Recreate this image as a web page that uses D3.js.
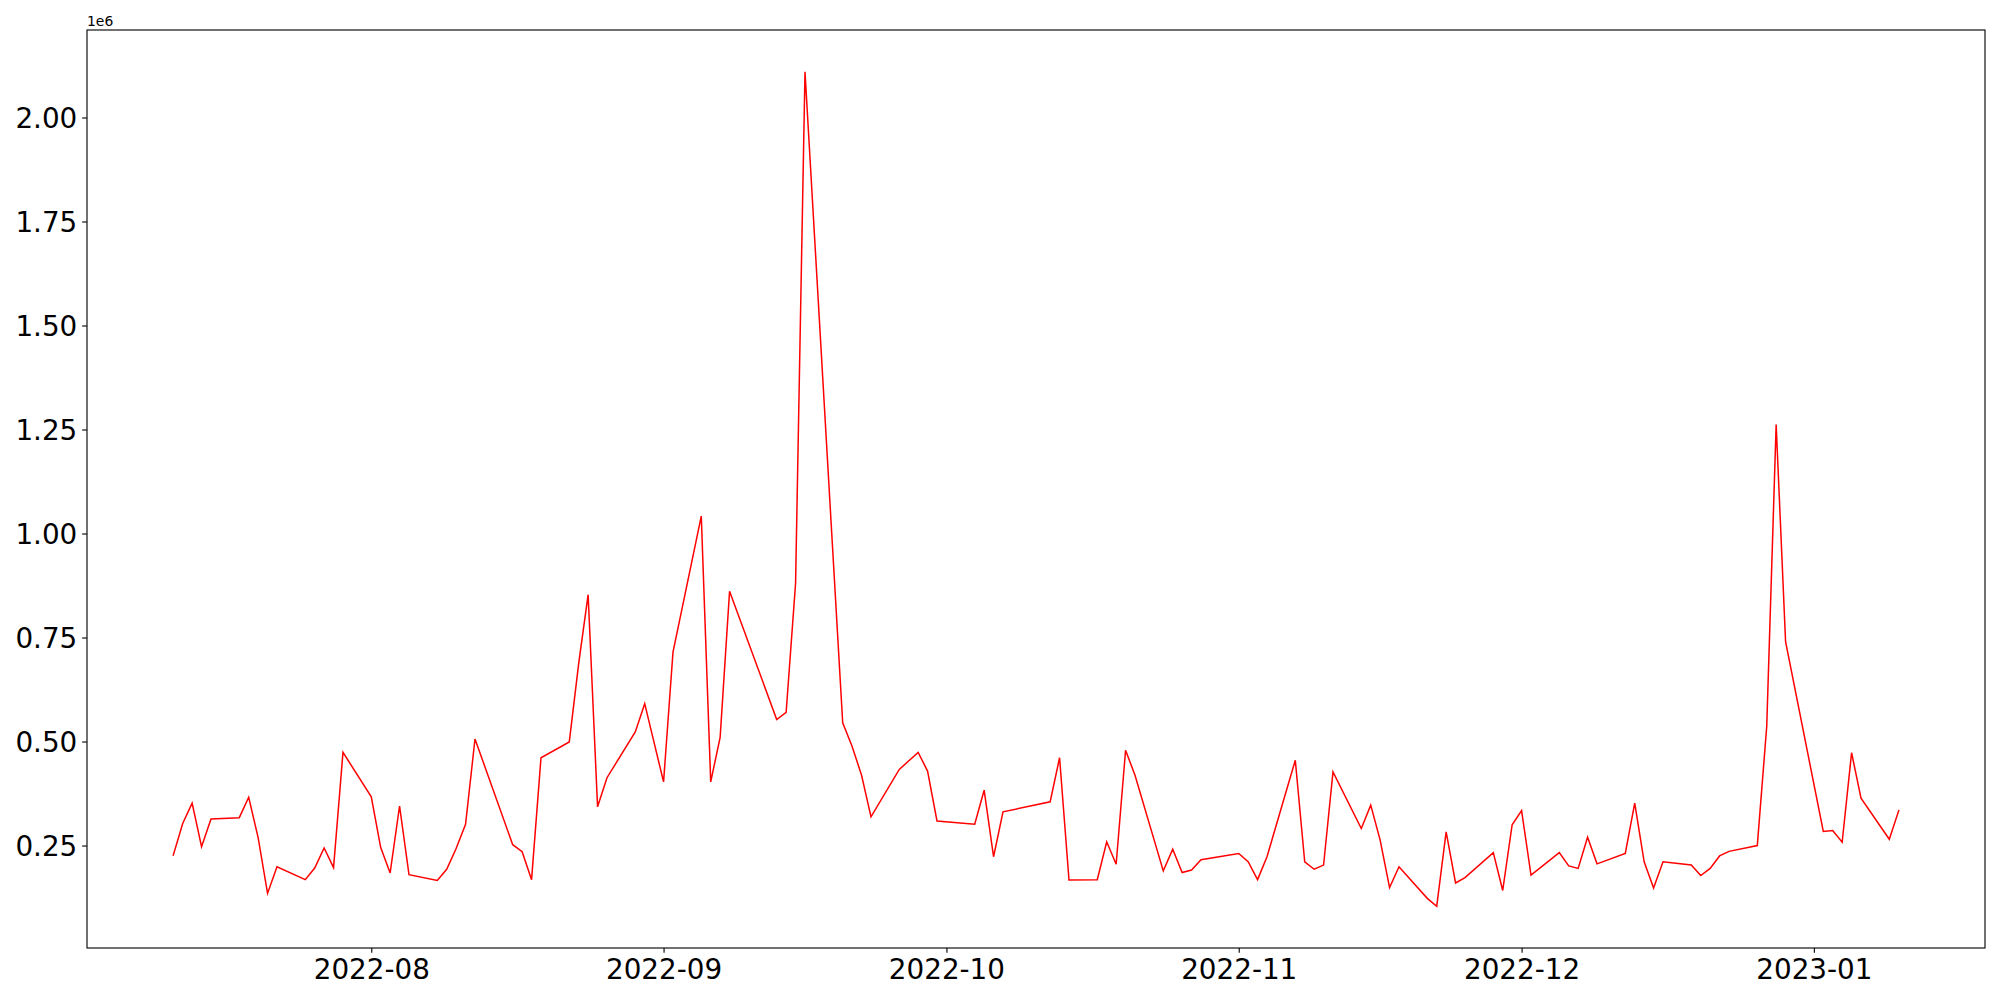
<!DOCTYPE html>
<html>
<head>
<meta charset="utf-8">
<script src="https://cdn.jsdelivr.net/npm/d3@7"></script>
<style>
  html, body { margin: 0; padding: 0; background: #fff; }
  svg { display: block; }
  text { font-family: "DejaVu Sans", sans-serif; fill: #000; }
</style>
</head>
<body>
<svg id="chart" width="2000" height="1000"></svg>
<script>
// ---- data ----
const dates = [
  "2022-07-11","2022-07-12","2022-07-13","2022-07-14","2022-07-15",
  "2022-07-18","2022-07-19","2022-07-20","2022-07-21","2022-07-22",
  "2022-07-25","2022-07-26","2022-07-27","2022-07-28","2022-07-29",
  "2022-08-01","2022-08-02","2022-08-03","2022-08-04","2022-08-05",
  "2022-08-08","2022-08-09","2022-08-10","2022-08-11","2022-08-12",
  "2022-08-16","2022-08-17","2022-08-18","2022-08-19",
  "2022-08-22","2022-08-23","2022-08-24","2022-08-25","2022-08-26",
  "2022-08-29","2022-08-30","2022-09-01","2022-09-02",
  "2022-09-05","2022-09-06","2022-09-07","2022-09-08",
  "2022-09-13","2022-09-14","2022-09-15","2022-09-16",
  "2022-09-20","2022-09-21","2022-09-22","2022-09-23",
  "2022-09-26","2022-09-28","2022-09-29","2022-09-30",
  "2022-10-04","2022-10-05","2022-10-06","2022-10-07",
  "2022-10-12","2022-10-13","2022-10-14",
  "2022-10-17","2022-10-18","2022-10-19","2022-10-20","2022-10-21",
  "2022-10-24","2022-10-25","2022-10-26","2022-10-27","2022-10-28",
  "2022-11-01","2022-11-02","2022-11-03","2022-11-04",
  "2022-11-07","2022-11-08","2022-11-09","2022-11-10","2022-11-11",
  "2022-11-14","2022-11-15","2022-11-16","2022-11-17","2022-11-18",
  "2022-11-21","2022-11-22","2022-11-23","2022-11-24","2022-11-25",
  "2022-11-28","2022-11-29","2022-11-30","2022-12-01","2022-12-02",
  "2022-12-05","2022-12-06","2022-12-07","2022-12-08","2022-12-09",
  "2022-12-12","2022-12-13","2022-12-14","2022-12-15","2022-12-16",
  "2022-12-19","2022-12-20","2022-12-21","2022-12-22","2022-12-23",
  "2022-12-26","2022-12-27","2022-12-28","2022-12-29",
  "2023-01-02","2023-01-03","2023-01-04","2023-01-05","2023-01-06",
  "2023-01-09","2023-01-10"
];
const values = [
  227000, 303000, 352000, 247000, 314000,
  317000, 366000, 269000, 135000, 199000,
  168000, 196000, 244000, 197000, 474000,
  367000, 245000, 184000, 345000, 180000,
  166000, 193000, 243000, 301000, 506000,
  252000, 235000, 168000, 461000,
  499000, 688000, 853000, 343000, 413000,
  523000, 591000, 403000, 715000,
  1042000, 403000, 510000, 861000,
  553000, 570000, 880000, 2110000,
  545000, 488000, 419000, 319000,
  433000, 474000, 429000, 309000,
  301000, 383000, 223000, 331000,
  355000, 461000, 167000,
  168000, 259000, 205000, 479000, 419000,
  189000, 241000, 185000, 191000, 216000,
  231000, 211000, 168000, 223000,
  455000, 211000, 193000, 203000, 427000,
  291000, 347000, 263000, 149000, 199000,
  123000, 104000, 283000, 160000, 173000,
  233000, 142000, 300000, 334000, 179000,
  233000, 201000, 195000, 270000, 206000,
  231000, 352000, 211000, 148000, 211000,
  203000, 178000, 195000, 225000, 236000,
  250000, 536000, 1262000, 740000,
  284000, 286000, 258000, 473000, 364000,
  265000, 334000
];
const xTickLabels = ["2022-08","2022-09","2022-10","2022-11","2022-12","2023-01"];
const yTickValues = [250000, 500000, 750000, 1000000, 1250000, 1500000, 1750000, 2000000];
const offsetLabel = "1e6";

// ---- layout ----
const M = { left: 87, top: 30, right: 1985, bottom: 948 };
const parse = d3.timeParse("%Y-%m-%d");
const data = dates.map((d, i) => ({ date: parse(d), value: values[i] }));

const xExt = d3.extent(data, d => +d.date);
const xPad = (xExt[1] - xExt[0]) * 0.05;
const yExt = d3.extent(data, d => d.value);
const yPad = (yExt[1] - yExt[0]) * 0.05;

const x = d3.scaleTime()
  .domain([new Date(xExt[0] - xPad), new Date(xExt[1] + xPad)])
  .range([M.left, M.right]);
const y = d3.scaleLinear()
  .domain([yExt[0] - yPad, yExt[1] + yPad])
  .range([M.bottom, M.top]);

const svg = d3.select("#chart");
const tickFont = 27.8;

// line
const line = d3.line().x(d => x(d.date)).y(d => y(d.value));
svg.append("path")
  .datum(data)
  .attr("d", line)
  .attr("fill", "none")
  .attr("stroke", "#ff0000")
  .attr("stroke-width", 1.5)
  .attr("stroke-linejoin", "miter")
  .attr("stroke-linecap", "square");

// x axis
const monthFmt = d3.timeFormat("%Y-%m");
const xAxis = d3.axisBottom(x)
  .tickValues(xTickLabels.map(s => d3.timeParse("%Y-%m")(s)))
  .tickFormat(monthFmt)
  .tickSize(4.86)
  .tickSizeOuter(0)
  .tickPadding(4.86);
const gx = svg.append("g").attr("transform", `translate(0,${M.bottom})`).call(xAxis);
gx.select(".domain").remove();
gx.selectAll(".tick line").attr("stroke", "#000").attr("stroke-width", 1.11);
gx.selectAll(".tick text")
  .attr("font-size", tickFont)
  .attr("font-family", "DejaVu Sans")
  .attr("fill", "#000")
  .attr("dy", "0.76em");

// y axis
const yAxis = d3.axisLeft(y)
  .tickValues(yTickValues)
  .tickFormat(v => (v / 1e6).toFixed(2))
  .tickSize(4.86)
  .tickSizeOuter(0)
  .tickPadding(4.86);
const gy = svg.append("g").attr("transform", `translate(${M.left},0)`).call(yAxis);
gy.select(".domain").remove();
gy.selectAll(".tick line").attr("stroke", "#000").attr("stroke-width", 1.11);
gy.selectAll(".tick text")
  .attr("font-size", tickFont)
  .attr("font-family", "DejaVu Sans")
  .attr("fill", "#000")
  .attr("dy", "0.36em");

// frame
svg.append("rect")
  .attr("x", M.left).attr("y", M.top)
  .attr("width", M.right - M.left).attr("height", M.bottom - M.top)
  .attr("fill", "none")
  .attr("stroke", "#000")
  .attr("stroke-width", 1.11);

// offset text
svg.append("text")
  .attr("x", M.left)
  .attr("y", M.top - 4)
  .attr("font-size", 13.9)
  .attr("font-family", "DejaVu Sans")
  .text(offsetLabel);
</script>
</body>
</html>
